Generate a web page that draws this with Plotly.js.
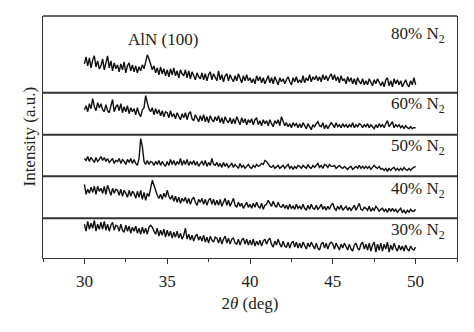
<!DOCTYPE html>
<html>
<head>
<meta charset="utf-8">
<script src="https://cdn.plot.ly/plotly-3.0.1.min.js"></script>
<style>html,body{margin:0;padding:0;background:#fff;}#chart{width:474px;height:332px;}</style>
</head>
<body>
<div id="chart"></div>
<script>
// 2θ scan: 30.0 .. 50.0 deg, step 0.1 deg
var scanStart = 30.0;
var scanStep = 0.1;

var n2_80 = [
29,36,27,35,25,33,37,26,32,24,
27,34,23,31,37,25,32,22,30,24,
28,21,29,23,31,20,27,30,22,28,
21,27,20,26,22,28,24,31,38,34,
29,23,27,20,25,18,26,19,24,17,
23,16,24,18,25,17,22,15,23,19,
17,23,15,22,14,21,17,13,20,16,
14,20,13,19,12,18,21,13,19,15,
12,22,13,18,11,17,19,12,18,14,
11,17,12,19,14,10,17,12,18,12,
15,10,14,9,17,12,16,10,15,9,
13,17,10,15,9,16,12,8,15,11,
14,9,13,16,11,8,15,11,16,10,
13,10,17,10,15,12,18,11,16,13,
17,12,16,11,18,13,17,12,16,19,
13,18,12,16,10,17,12,14,9,16,
11,15,9,14,8,15,11,9,14,8,
12,8,14,10,7,13,9,14,10,7,
11,6,13,15,7,12,6,14,9,13,
8,12,6,10,13,8,6,12,8,15,
8];

var n2_60 = [
25,29,23,31,26,36,28,24,32,27,
31,25,23,30,24,22,29,35,23,28,
30,24,31,22,28,23,29,21,27,23,
26,20,27,21,18,25,27,39,32,26,
23,27,20,26,21,25,19,24,18,23,
22,17,24,18,21,16,22,18,15,21,
17,22,15,21,23,16,14,20,16,13,
19,14,20,13,18,12,19,15,13,18,
14,19,12,17,11,18,14,12,17,11,
16,11,18,13,10,17,12,16,10,15,
12,16,10,15,17,10,14,9,15,11,
14,9,15,11,8,14,11,15,9,18,
13,9,12,8,11,7,12,9,11,7,
11,7,12,9,6,11,8,5,10,8,
11,13,9,8,12,6,10,6,9,12,
10,7,12,8,10,7,11,8,10,7,
10,8,12,7,10,8,11,10,7,10,
8,11,7,10,8,6,10,7,11,8,
10,7,11,14,8,10,13,7,10,8,
10,7,9,6,9,7,6,8,6,7,
7];

var n2_50 = [
18,16,20,15,19,17,14,19,15,17,
20,16,19,15,18,14,16,18,13,16,
15,18,13,17,15,12,17,14,18,13,
17,13,11,18,38,30,15,12,16,12,
15,14,11,15,12,16,11,15,12,10,
15,11,17,12,16,11,15,12,18,11,
16,12,17,11,15,12,16,11,15,10,
13,15,11,16,10,14,11,18,12,11,
14,10,13,9,14,10,13,9,11,13,
9,12,10,8,13,9,11,8,10,12,
9,8,11,9,12,10,11,13,12,16,
15,12,10,9,11,8,10,11,8,10,
11,8,10,12,8,10,7,10,8,11,
10,8,11,9,8,12,9,8,11,9,
11,13,9,11,8,12,11,9,12,10,
10,11,8,10,11,9,8,10,8,7,
9,10,7,9,10,8,11,8,10,8,
10,8,10,7,9,11,9,8,10,7,
8,6,8,5,8,6,8,9,6,8,
6,8,6,9,7,6,8,6,8,9,
10];

var n2_40 = [
34,24,29,25,31,26,32,24,32,27,
30,25,32,24,33,27,23,30,25,29,
28,23,29,22,28,25,21,28,22,27,
25,20,27,21,28,19,26,18,25,22,
30,38,33,27,23,20,24,19,25,21,
28,22,19,23,17,22,16,21,15,20,
17,21,15,20,14,19,21,16,13,19,
16,20,14,19,13,18,20,14,19,13,
18,13,19,12,17,20,13,18,12,17,
20,13,11,16,12,15,10,13,16,11,
14,10,15,11,16,12,10,15,9,13,
14,18,15,12,17,13,11,16,12,11,
14,10,13,9,14,10,12,9,14,10,
12,9,14,10,8,13,9,14,10,9,
13,9,11,14,9,12,8,12,9,13,
15,10,8,12,9,13,8,10,12,8,
11,8,10,13,8,11,15,9,8,11,
10,8,12,7,10,8,12,10,7,9,
10,7,9,6,10,7,10,7,9,6,
8,10,6,8,5,8,6,9,7,7,
9];

var n2_30 = [
34,27,37,29,35,30,38,27,34,29,
36,29,37,28,34,27,33,36,28,33,
32,27,34,28,26,33,27,32,25,31,
27,32,25,30,24,31,25,30,24,31,
33,31,27,24,30,22,28,23,29,21,
28,22,27,20,26,21,27,20,25,19,
23,30,19,24,18,23,17,22,24,18,
22,17,23,16,21,15,22,18,16,21,
20,15,21,14,19,22,15,20,14,19,
20,15,14,19,13,18,20,14,19,13,
18,13,19,12,17,13,18,12,17,19,
14,18,20,14,11,17,13,19,14,11,
17,12,11,16,10,15,17,11,16,10,
15,10,16,12,9,15,11,16,12,9,
15,10,8,14,16,10,15,9,14,16,
14,9,15,11,8,14,10,15,11,8,
14,9,7,13,15,10,8,14,16,9,
14,8,15,7,13,16,6,14,8,15,
7,14,9,16,6,13,8,15,10,7,
13,8,12,7,13,9,7,12,9,8,
11];

var seriesNames = ["30% N<sub>2</sub>", "40% N<sub>2</sub>", "50% N<sub>2</sub>", "60% N<sub>2</sub>", "80% N<sub>2</sub>"];
var seriesData = [n2_30, n2_40, n2_50, n2_60, n2_80];
var xTickVals = [30, 35, 40, 45, 50];
var peakLabel = "AlN (100)";

var FONT = "Liberation Serif, Times New Roman, serif";
var TXT = "#222";
var LINE = "#333";
var FS = 17;

// panel geometry (paper fractions, bottom -> top) and panel y ranges
var domains = [[0, 0.164], [0.164, 0.3376], [0.3376, 0.5095], [0.5095, 0.683], [0.683, 1]];
var yMax = [40, 42, 42, 42, 77];
var labelY = [27.7, 28.3, 29.3, 29.7, 57.7];

var traces = [];
var annotations = [];
var shapes = [];
var layout = {
  width: 474, height: 332,
  margin: {l: 43, r: 17, t: 16, b: 74},
  paper_bgcolor: "#fff", plot_bgcolor: "#fff",
  showlegend: false,
  font: {family: FONT, size: FS, color: TXT},
  xaxis: {
    range: [27.5, 52.5], anchor: "y",
    tickvals: xTickVals, ticktext: xTickVals.map(String),
    ticks: "outside", ticklen: 5, tickwidth: 1, tickcolor: LINE,
    ticklabelstandoff: 2,
    minor: {tickvals: [27.5, 32.5, 37.5, 42.5, 47.5, 52.5], ticks: "outside", ticklen: 3, tickwidth: 1, tickcolor: LINE},
    showline: true, linecolor: LINE, linewidth: 1.3, mirror: false,
    showgrid: false, zeroline: false,
    tickfont: {family: FONT, size: FS, color: TXT},
    title: {text: "2<i>θ</i> (deg)", font: {family: FONT, size: FS, color: TXT}, standoff: 7}
  }
};

for (var i = 0; i < seriesData.length; i++) {
  var yName = i === 0 ? "y" : "y" + (i + 1);
  var axKey = i === 0 ? "yaxis" : "yaxis" + (i + 1);
  var xs = seriesData[i].map(function (v, k) { return +(scanStart + k * scanStep).toFixed(2); });
  traces.push({
    x: xs, y: seriesData[i], xaxis: "x", yaxis: yName,
    type: "scatter", mode: "lines",
    line: {color: "#111", width: 1.4},
    hoverinfo: "skip"
  });
  layout[axKey] = {
    domain: domains[i], range: [0, yMax[i]], anchor: "x",
    showline: true, mirror: true, linecolor: LINE, linewidth: 1.3,
    showticklabels: false, ticks: "", showgrid: false, zeroline: false,
    fixedrange: true
  };
  annotations.push({
    text: seriesNames[i], xref: "paper", yref: yName,
    x: 0.976, y: labelY[i], xanchor: "right", yanchor: "middle",
    showarrow: false, font: {family: FONT, size: FS, color: TXT}
  });
  // panel top border / divider
  shapes.push({
    type: "line", xref: "paper", yref: "paper",
    x0: 0, x1: 1, y0: domains[i][1], y1: domains[i][1],
    line: {color: LINE, width: i === seriesData.length - 1 ? 1.3 : 2}
  });
}

annotations.push({
  text: peakLabel, xref: "x", yref: "y5", x: 34.75, y: 53.7,
  xanchor: "center", yanchor: "middle", showarrow: false,
  font: {family: FONT, size: FS, color: TXT}
});
annotations.push({
  text: "Intensity (a.u.)", xref: "paper", yref: "paper",
  x: -0.035, y: 0.5, xanchor: "center", yanchor: "middle",
  textangle: -90, showarrow: false,
  font: {family: FONT, size: FS, color: TXT}
});
layout.annotations = annotations;
layout.shapes = shapes;

Plotly.newPlot("chart", traces, layout, {displayModeBar: false, staticPlot: true});
</script>
</body>
</html>
